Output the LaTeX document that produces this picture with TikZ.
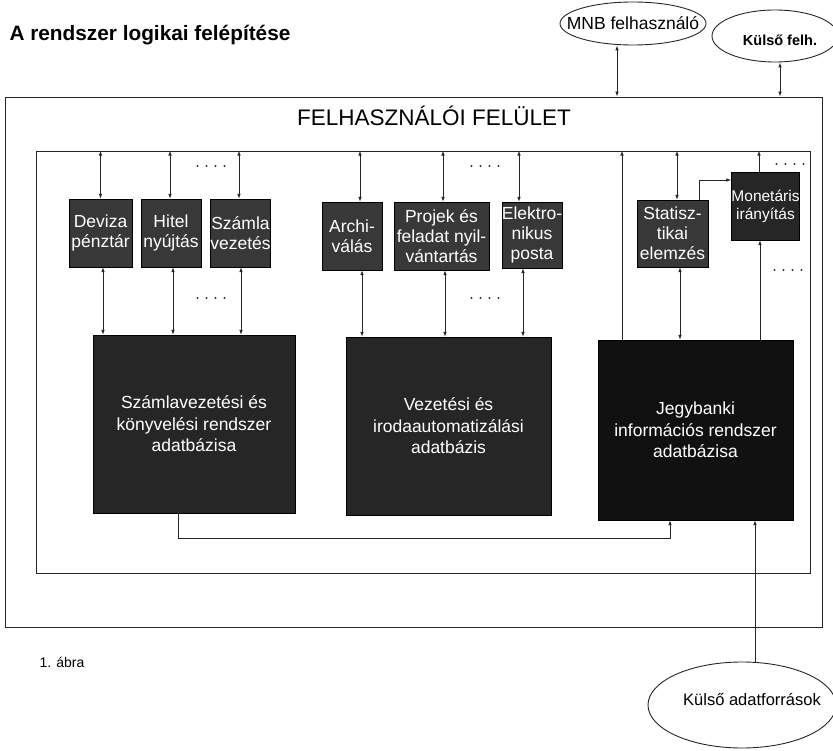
\documentclass[tikz,border=0pt]{standalone}
\usepackage{fontspec}
\setmainfont{Liberation Sans}
\usetikzlibrary{arrows.meta,shapes.geometric}
\definecolor{boxgray}{HTML}{383838}
\definecolor{dbgray}{HTML}{262626}
\definecolor{dbdark}{HTML}{111111}
\begin{document}
\begin{tikzpicture}[x=1pt,y=-1pt,
  link/.style={line width=0.9pt, draw=black!85},
  dbl/.style={link, {Latex[length=5pt,width=3.6pt]}-{Latex[length=5pt,width=3.6pt]}},
  one/.style={link, -{Latex[length=5pt,width=3.6pt]}},
  frame/.style={draw=black!85, line width=0.9pt, inner sep=0pt},
  sbox/.style={draw=black, fill=boxgray, text=white, inner sep=0pt, align=center,
    font=\fontsize{17.5}{20}\selectfont},
  bbox/.style={draw=black, fill=dbgray, text=white, inner sep=0pt, align=center,
    font=\fontsize{17.5}{21.5}\selectfont},
  oval/.style={draw=black!85, line width=0.9pt, ellipse, inner sep=0pt},
  dots/.style={fill=black!80}
]
\useasboundingbox (0,0) rectangle (833,751);

% title
\node[anchor=west, font=\bfseries\fontsize{20.8}{24}\selectfont] (title) at (6,35) {A rendszer logikai felépítése};

% external users
\node[oval, minimum width=146, minimum height=43] (mnb) at (633,23.5) {};
\node[font=\fontsize{17.5}{20}\selectfont] (mnbt) at (633,23.5) {MNB felhasználó};
\node[oval, minimum width=126, minimum height=52] (kf) at (775,36) {};
\node[font=\bfseries\fontsize{14.5}{17}\selectfont] (kft) at (780,40) {Külső felh.};

% frames
\node[frame, minimum width=817, minimum height=530] (outer) at (413.5,362) {};
\node[frame, minimum width=774, minimum height=422] (inner) at (423,362) {};
\node[font=\fontsize{22.5}{26}\selectfont] (ui) at (434,116) {FELHASZNÁLÓI FELÜLET};

% small boxes
\node[sbox, minimum width=63, minimum height=68] (dev) at (100.5,233) {Deviza\\pénztár};
\node[sbox, minimum width=60, minimum height=68] (hit) at (171,233) {Hitel\\nyújtás};
\node[sbox, minimum width=59, minimum height=68] (szam) at (240.5,233) {Számla\\vezetés};
\node[sbox, minimum width=60, minimum height=68] (arch) at (352,236) {Archi-\\válás};
\node[sbox, minimum width=95, minimum height=68] (proj) at (441.5,236) {Projek és\\feladat nyil-\\vántartás};
\node[sbox, minimum width=60, minimum height=66] (elek) at (532,235) {Elektro-\\nikus\\posta};
\node[sbox, minimum width=71, minimum height=67] (stat) at (672.5,233.5) {Statisz-\\tikai\\elemzés};
\node[sbox, fill=dbgray, minimum width=67, minimum height=68, font=\fontsize{15.5}{18}\selectfont] (mon) at (765.5,206) {Monetáris\\irányítás};

% databases
\node[bbox, minimum width=202, minimum height=178] (db1) at (194,424) {Számlavezetési és\\könyvelési rendszer\\adatbázisa};
\node[bbox, minimum width=205, minimum height=178] (db2) at (448.5,426) {Vezetési és\\irodaautomatizálási\\adatbázis};
\node[bbox, fill=dbdark, minimum width=195, minimum height=180] (db3) at (695.5,430) {Jegybanki\\információs rendszer\\adatbázisa};

% external sources
\node[oval, minimum width=188, minimum height=86] (ext) at (742,705) {};
\node[font=\fontsize{16.5}{20}\selectfont] (extt) at (752,700) {Külső adatforrások};

\node[anchor=west, font=\fontsize{14}{17}\selectfont] (abra) at (36,662) {1. ábra};

% user links
\draw[dbl] ([xshift=-16pt]mnb.south) -- ([xshift=-16pt]mnb.south |- outer.north);
\draw[dbl] ([xshift=5pt]kf.south) -- ([xshift=5pt]kf.south |- outer.north);

% group 1
\draw[dbl] (dev.north |- inner.north) -- (dev.north);
\draw[dbl] ([xshift=-1pt]hit.north |- inner.north) -- ([xshift=-1pt]hit.north);
\draw[dbl] ([xshift=-1.5pt]szam.north |- inner.north) -- ([xshift=-1.5pt]szam.north);
\draw[dbl] ([xshift=2.5pt]dev.south) -- ([xshift=2.5pt]dev.south |- db1.north);
\draw[dbl] ([xshift=2pt]hit.south) -- ([xshift=2pt]hit.south |- db1.north);
\draw[dbl] ([xshift=0.5pt]szam.south) -- ([xshift=0.5pt]szam.south |- db1.north);

% group 2
\draw[dbl] ([xshift=8pt]arch.north |- inner.north) -- ([xshift=8pt]arch.north);
\draw[dbl] ([xshift=1.5pt]proj.north |- inner.north) -- ([xshift=1.5pt]proj.north);
\draw[dbl] ([xshift=-13pt]elek.north |- inner.north) -- ([xshift=-13pt]elek.north);
\draw[dbl] ([xshift=10pt]arch.south) -- ([xshift=10pt]arch.south |- db2.north);
\draw[dbl] ([xshift=3.5pt]proj.south) -- ([xshift=3.5pt]proj.south |- db2.north);
\draw[dbl] ([xshift=-9pt]elek.south) -- ([xshift=-9pt]elek.south |- db2.north);

% group 3
\draw[one] ([xshift=-73.5pt]db3.north) -- ([xshift=-73.5pt]db3.north |- inner.north);
\draw[dbl] ([xshift=4.5pt]stat.north |- inner.north) -- ([xshift=4.5pt]stat.north);
\draw[dbl] ([xshift=7.5pt]stat.south) -- ([xshift=7.5pt]stat.south |- db3.north);
\draw[one] ([xshift=26.5pt]stat.north) |- ([yshift=26pt]mon.west);
\draw[one] ([xshift=-6.5pt]mon.north) -- ([xshift=-6.5pt]mon.north |- inner.north);
\draw[one] ([xshift=-5.5pt]mon.south |- db3.north) -- ([xshift=-5.5pt]mon.south);

% database link and external source
\draw[one] ([xshift=-16pt]db1.south) -- ++(0,25) -| ([xshift=-25.5pt]db3.south);
\draw[one] ([xshift=13pt]ext.north) -- ([xshift=13pt]ext.north |- db3.south);

% dots
\foreach \cx/\cy in {211/166, 211/298, 485/166, 485/298, 790/164, 788/270}
  \foreach \i in {0,...,3}
    \fill[dots] (\cx-13.5+9*\i,\cy) circle (1.1pt);
\end{tikzpicture}
\end{document}
